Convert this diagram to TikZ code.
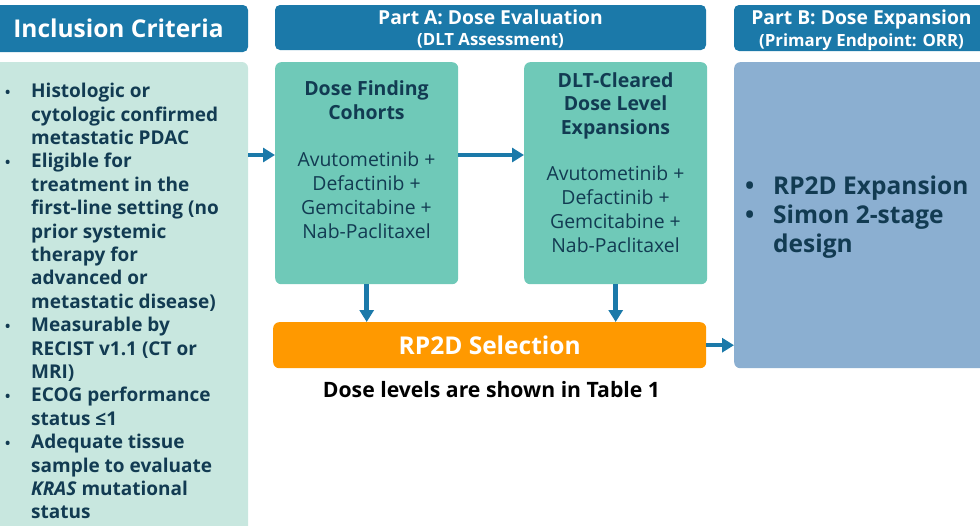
\documentclass[tikz,border=0pt]{standalone}
\usepackage{fontspec}
\setmainfont{Open Sans}
\usetikzlibrary{arrows.meta}
\definecolor{hdr}{HTML}{1B79A9}
\definecolor{mint}{HTML}{C8E7DF}
\definecolor{teal}{HTML}{6FC9B8}
\definecolor{bluep}{HTML}{8BAFD1}
\definecolor{orng}{HTML}{FF9900}
\definecolor{navy}{HTML}{123B52}
\newcommand{\fs}[2]{\fontsize{#1}{#2}\selectfont}
\newcommand{\bl}{\makebox[26pt][l]{\fs{14}{14}•}}
\newcommand{\ct}{\hspace*{26pt}}
\begin{document}
\begin{tikzpicture}[x=1pt,y=-1pt,
  hdrbox/.style={fill=hdr,rounded corners=5pt,draw=none},
  panel/.style={rounded corners=6pt,draw=none},
  arr/.style={draw=hdr,line width=4.5pt,-{Triangle[width=14pt,length=12pt]}},
  txt/.style={inner sep=0pt,text=navy}]
\clip (0,0) rectangle (980,525);
\useasboundingbox (0,0) rectangle (980,525);
% headers
\path[hdrbox] (-10,5) rectangle (248,52);
\node[txt,text=white,font=\bfseries\fs{24.5}{27}] (hinc) at (118.5,28) {Inclusion Criteria};
\path[hdrbox] (275,5) rectangle (706,50);
\node[txt,text=white,font=\bfseries\fs{19.3}{22},anchor=base] (hpa1) at (490.5,24) {Part A: Dose Evaluation};
\node[txt,text=white,font=\bfseries\fs{16.8}{19},anchor=base] (hpa2) at (490.5,45) {(DLT Assessment)};
\path[hdrbox] (734,5) rectangle (990,51);
\node[txt,text=white,font=\bfseries\fs{19.3}{22},anchor=base] (hpb1) at (861.5,24) {Part B: Dose Expansion};
\node[txt,text=white,font=\bfseries\fs{16.8}{19},anchor=base] (hpb2) at (861.5,46) {(Primary Endpoint: ORR)};
% panels
\path[panel,fill=mint] (-10,62) rectangle (248,540);
\coordinate (lp) at (248,155);
\node[panel,fill=teal,anchor=north west,minimum width=183pt,minimum height=222pt,inner sep=0pt] (df) at (275,62) {};
\node[panel,fill=teal,anchor=north west,minimum width=183pt,minimum height=222pt,inner sep=0pt] (dlt) at (524,62) {};
\node[panel,fill=bluep,anchor=north west,minimum width=260pt,minimum height=306pt,inner sep=0pt] (bp) at (734,62) {};
\node[rounded corners=6pt,fill=orng,anchor=north west,minimum width=433pt,minimum height=46pt,inner sep=0pt,text=white,font=\bfseries\fs{24.5}{27}] (rp) at (273,322) {RP2D Selection};
% left panel text
\node[txt,anchor=north west,align=left,font=\bfseries\fs{19}{23.4}] (crit) at (5,83) {%
\bl Histologic or\\
\ct cytologic confirmed\\
\ct metastatic PDAC\\
\bl Eligible for\\
\ct treatment in the\\
\ct first-line setting (no\\
\ct prior systemic\\
\ct therapy for\\
\ct advanced or\\
\ct metastatic disease)\\
\bl Measurable by\\
\ct RECIST v1.1 (CT or\\
\ct MRI)\\
\bl ECOG performance\\
\ct status ≤1\\
\bl Adequate tissue\\
\ct sample to evaluate\\
\ct \textit{KRAS} mutational\\
\ct status};
% box texts
\node[txt,anchor=north,align=center,font=\bfseries\fs{19.5}{24}] (dft) at (366.5,80) {Dose Finding\\Cohorts};
\node[txt,anchor=north,align=center,font=\fs{19.4}{24}] (dfb) at (366.5,152) {Avutometinib +\\Defactinib +\\Gemcitabine +\\Nab-Paclitaxel};
\node[txt,anchor=north,align=center,font=\bfseries\fs{19.5}{23.5}] (dltt) at (615.5,72) {DLT-Cleared\\Dose Level\\Expansions};
\node[txt,anchor=north,align=center,font=\fs{19.4}{23.7}] (dltb) at (615.5,166) {Avutometinib +\\Defactinib +\\Gemcitabine +\\Nab-Paclitaxel};
\node[txt,anchor=north west,align=left,font=\bfseries\fs{24.5}{29},text=navy] (bpt) at (745,176) {%
\makebox[28pt][l]{•}RP2D Expansion\\
\makebox[28pt][l]{•}Simon 2-stage\\
\hspace*{28pt}design};
\node[txt,text=black,font=\bfseries\fs{21.2}{24}] (note) at (491.5,390) {Dose levels are shown in Table 1};
% arrows
\coordinate (y155) at (0,155);
\draw[arr] (lp) -- (df.west |- y155);
\draw[arr] (df.east |- y155) -- (dlt.west |- y155);
\draw[arr] (df.south) -- (rp.north -| df.south);
\draw[arr] (dlt.south) -- (rp.north -| dlt.south);
\draw[arr] (rp.east) -- (rp.east -| bp.west);
\end{tikzpicture}
\end{document}
